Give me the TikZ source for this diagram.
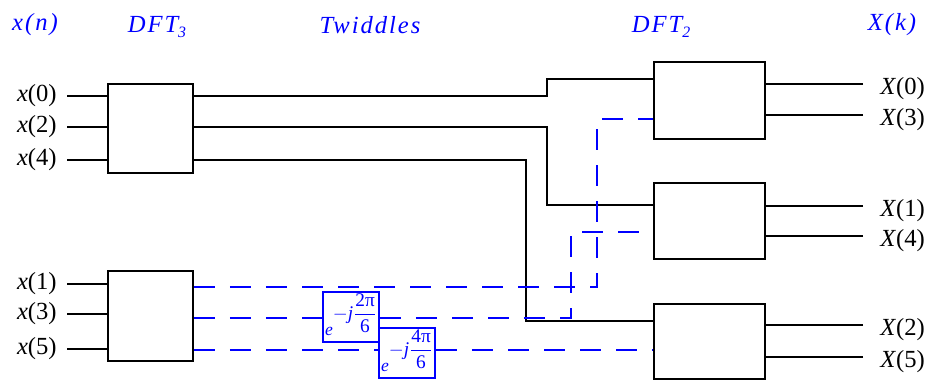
\documentclass[tikz,border=0pt]{standalone}
\usepackage{fontspec}
\setmainfont{Liberation Serif}
\usetikzlibrary{positioning,calc}

\begin{document}
\begin{tikzpicture}[
  x=0.02cm, y=-0.02cm,
  every node/.style={font=\fontsize{14}{16}\selectfont},
  dftbox/.style={rectangle, draw, line width=1.1pt, inner sep=0pt, minimum width=2.22cm},
  wire/.style={line width=1.1pt},
  twline/.style={draw=blue, line width=1.1pt, dash pattern=on 12pt off 8.5pt},
  twid/.style={rectangle, draw=blue, line width=1.1pt, fill=white, text=blue, minimum width=1.12cm, minimum height=1cm, inner sep=0pt, font=\fontsize{11}{13}\selectfont},
  head/.style={text=blue, font=\fontsize{14}{16}\selectfont\itshape\addfontfeature{LetterSpace=8}},
  inlab/.style={anchor=east, inner sep=0pt},
  outlab/.style={anchor=west, inner sep=0pt},
]
\useasboundingbox (0,0) rectangle (930,380);

\node[head] (hxn) at (35,25) {x(n)};
\node[head] (hdft3) at (157,27) {DFT\raisebox{-0.5ex}{\small 3}};
\node[head] (htw) at (370,25) {Twiddles};
\node[head] (hdft2) at (661,27) {DFT\raisebox{-0.5ex}{\small 2}};
\node[head] (hxk) at (892,25) {X(k)};

\node[dftbox, minimum width=1.7cm, minimum height=1.78cm] (dft3a) at (150.5,128.5) {};
\node[dftbox, minimum width=1.7cm, minimum height=1.8cm] (dft3b) at (150.5,316) {};
\node[dftbox, minimum height=1.54cm] (dftc) at (709.5,100.5) {};
\node[dftbox, minimum height=1.52cm] (dftd) at (709.5,221) {};
\node[dftbox, minimum height=1.5cm] (dfte) at (709.5,341.5) {};

\node[inlab] (x0) at (57,96) {\textit{x}(0)};
\node[inlab] (x2) at (57,127) {\textit{x}(2)};
\node[inlab] (x4) at (57,160) {\textit{x}(4)};
\node[inlab] (x1) at (57,284) {\textit{x}(1)};
\node[inlab] (x3) at (57,314) {\textit{x}(3)};
\node[inlab] (x5) at (57,349) {\textit{x}(5)};
\foreach \n in {x0,x2,x4} \draw[wire] (\n.east) ++(10,0) -- (\n -| dft3a.west);
\foreach \n in {x1,x3,x5} \draw[wire] (\n.east) ++(10,0) -- (\n -| dft3b.west);

\node[outlab] (X0) at (880,89) {\textit{X}(0)};
\node[outlab] (X3) at (880,120) {\textit{X}(3)};
\node[outlab] (X1) at (880,211) {\textit{X}(1)};
\node[outlab] (X4) at (880,241) {\textit{X}(4)};
\node[outlab] (X2) at (880,330) {\textit{X}(2)};
\node[outlab] (X5) at (880,362) {\textit{X}(5)};
\foreach \n/\b in {X0/dftc,X3/dftc,X1/dftd,X4/dftd,X2/dfte,X5/dfte}
  \draw[wire] (\n.west) ++(-17,-5) -- ($(\n -| \b.east)+(0,-5)$);

\node[twid] (tw1) at (351,317) {\smash{\raisebox{-10.5pt}{\fontsize{10}{12}\selectfont\textit{e}}\raisebox{-1.5pt}{$-$\textit{j}$\displaystyle\frac{\mbox{2π}}{\mbox{6}}$}}};
\node[twid] (tw2) at (407,353) {\smash{\raisebox{-10.5pt}{\fontsize{10}{12}\selectfont\textit{e}}\raisebox{-1.5pt}{$-$\textit{j}$\displaystyle\frac{\mbox{4π}}{\mbox{6}}$}}};

\draw[wire] (dft3a.east |- x0) -- (547,96) |- (dftc.west |- 0,79);
\draw[wire] (dft3a.east |- x2) -- (547,127) |- (dftd.west |- 0,205);
\draw[wire] (dft3a.east |- x4) -- (526,160) |- (dfte.west |- 0,321);

\draw[twline] (dft3b.east |- 0,287) -- (597,287) |- (dftc.west |- 0,119);
\draw[twline] (dft3b.east |- 0,318) -- (tw1.west |- 0,318);
\draw[twline] (tw1.east |- 0,318) -- (571,318) |- (dftd.west |- 0,232);
\draw[twline] (dft3b.east |- 0,350) -- (tw2.west |- 0,350);
\draw[twline] (tw2.east |- 0,350) -- (dfte.west |- 0,350);
\end{tikzpicture}
\end{document}
